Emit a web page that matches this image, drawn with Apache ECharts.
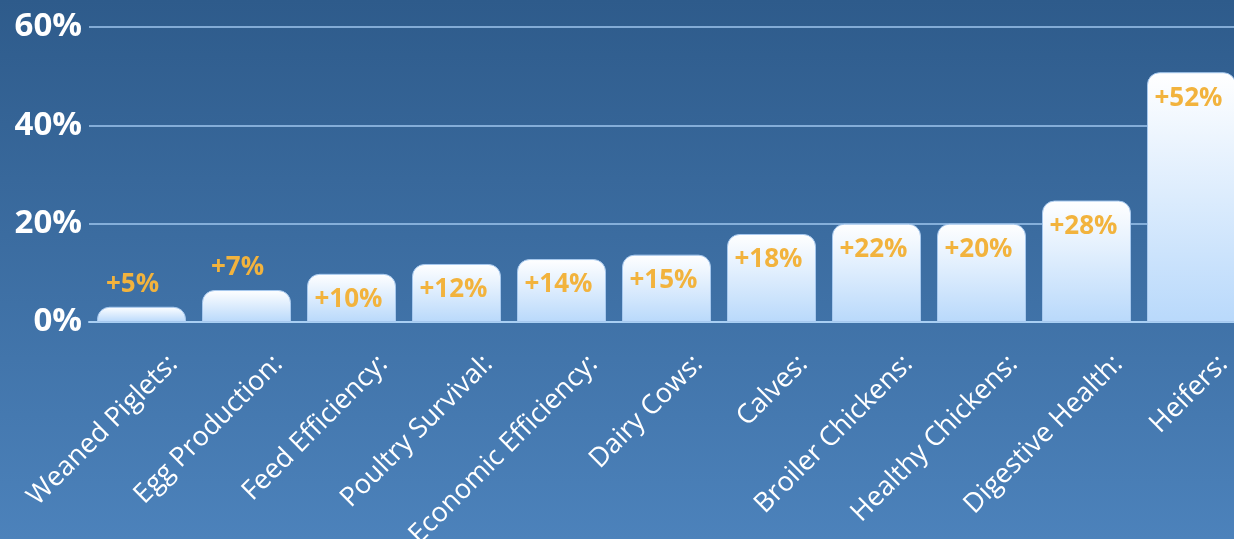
<!DOCTYPE html>
<html>
<head>
<meta charset="utf-8">
<script src="https://cdn.jsdelivr.net/npm/echarts@6/dist/echarts.min.js"></script>
<style>
html,body{margin:0;padding:0;width:1234px;height:539px;overflow:hidden;}
#c{width:1234px;height:539px;}
</style>
</head>
<body>
<div id="c"></div>
<script>
const categories = ['Weaned Piglets:', 'Egg Production:', 'Feed Efficiency:', 'Poultry Survival:', 'Economic Efficiency:', 'Dairy Cows:', 'Calves:', 'Broiler Chickens:', 'Healthy Chickens:', 'Digestive Health:', 'Heifers:'];
const barValues = [3.1, 6.5, 9.8, 11.8, 12.8, 13.7, 17.9, 20, 20, 24.7, 50.8];
const valueLabels = ['+5%', '+7%', '+10%', '+12%', '+14%', '+15%', '+18%', '+22%', '+20%', '+28%', '+52%'];
const labelOutside = [true, true, false, false, false, false, false, false, false, false, false];
const yTicks = [0, 20, 40, 60];

const FONT = '"Open Sans", sans-serif';
const chart = echarts.init(document.getElementById('c'));

const data = barValues.map((v, i) => ({
  value: v,
  label: labelOutside[i]
    ? { position: 'top', distance: 9, offset: [-9, 0] }
    : { position: 'insideTop', distance: 13, offset: [-3, 0] }
}));

chart.setOption({
  backgroundColor: new echarts.graphic.LinearGradient(0, 0, 0, 1, [
    { offset: 0, color: '#2e5b8b' },
    { offset: 1, color: '#4c82bb' }
  ]),
  animation: false,
  grid: { left: 89, top: 27, width: 1155, height: 295, outerBoundsMode: 'none', containLabel: false },
  xAxis: {
    type: 'category',
    data: categories,
    axisLine: { show: true, lineStyle: { color: '#a9cff3', width: 2 } },
    axisTick: { show: false },
    axisLabel: {
      interval: 0,
      rotate: 45,
      margin: 6,
      color: '#ffffff',
      fontFamily: FONT,
      fontSize: 27,
      lineHeight: 90,
      verticalAlign: 'middle',
      formatter: v => '\n' + v
    }
  },
  yAxis: {
    type: 'value',
    min: yTicks[0],
    max: yTicks[yTicks.length - 1],
    interval: 20,
    axisLine: { show: false },
    axisTick: { show: false },
    axisLabel: {
      formatter: '{value}%',
      color: '#ffffff',
      fontFamily: FONT,
      fontWeight: 'bold',
      fontSize: 33,
      margin: 7
    },
    splitLine: { lineStyle: { color: '#9fc6ee', width: 1.5 } }
  },
  series: [{
    type: 'bar',
    data: data,
    barWidth: 89,
    itemStyle: {
      borderRadius: [12, 12, 0, 0],
      color: new echarts.graphic.LinearGradient(0, 0, 0, 1, [
        { offset: 0, color: '#ffffff' },
        { offset: 1, color: '#b9d9fb' }
      ]),
      borderColor: '#a6c8ee',
      borderWidth: 1
    },
    label: {
      show: true,
      formatter: p => valueLabels[p.dataIndex],
      color: '#f2b33d',
      fontFamily: FONT,
      fontWeight: 'bold',
      fontSize: 26
    }
  }]
});
</script>
</body>
</html>
